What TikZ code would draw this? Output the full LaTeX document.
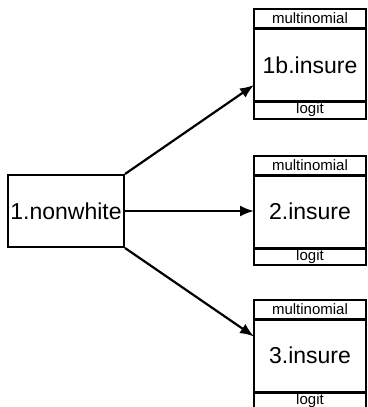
\documentclass[tikz,border=0pt]{standalone}
\usepackage{fontspec}
\setmainfont{Liberation Sans}
\usetikzlibrary{arrows.meta,calc}
\tikzset{
  frame/.style={draw=black,line width=2pt,inner sep=0pt,outer sep=0pt,minimum width=112pt},
  bigbox/.style={frame,minimum height=73pt,font=\fontsize{23}{23}\selectfont},
  topband/.style={frame,minimum height=19pt,font=\fontsize{15}{15}\selectfont},
  botband/.style={frame,minimum height=17pt,font=\fontsize{15}{15}\selectfont},
  srcbox/.style={draw=black,line width=2pt,inner sep=0pt,minimum width=116pt,minimum height=72pt,font=\fontsize{23}{23}\selectfont},
  link/.style={line width=2.2pt,-{Latex[length=14pt,width=11pt]}}
}
\newcommand{\lowtext}[1]{\raisebox{-1.5pt}{#1}}
\begin{document}
\begin{tikzpicture}[x=1pt,y=-1pt]
\useasboundingbox (0,0) rectangle (367,407);
\node[srcbox] (a) at (66,211) {1.nonwhite};
% box 1
\node[topband] (t1) at (310,18.5) {multinomial};
\node[bigbox] (m1) at (310,65) {1b.insure};
\node[botband] (b1) at (310,110) {\lowtext{logit}};
% box 2
\node[topband] (t2) at (310,165.5) {multinomial};
\node[bigbox] (m2) at (310,211.5) {2.insure};
\node[botband] (b2) at (310,256.5) {\lowtext{logit}};
% box 3
\node[topband] (t3) at (310,309.5) {multinomial};
\node[bigbox] (m3) at (310,355.5) {3.insure};
\node[botband] (b3) at (310,400.5) {\lowtext{logit}};
% thicker separators between bands
\foreach \n in {1,2,3}{
  \draw[line width=3pt] (m\n.north west) -- (m\n.north east);
  \draw[line width=3pt] (m\n.south west) -- (m\n.south east);
}
% connectors
\coordinate (e1) at ($(m1.west)+(0,20)$);
\coordinate (e3) at ($(m3.west)+(0,-19)$);
\draw[link] (a.north east) -- (e1);
\draw[link] (a.east) -- (m2.west |- a.east);
\draw[link] (a.south east) -- (e3);
\end{tikzpicture}
\end{document}
